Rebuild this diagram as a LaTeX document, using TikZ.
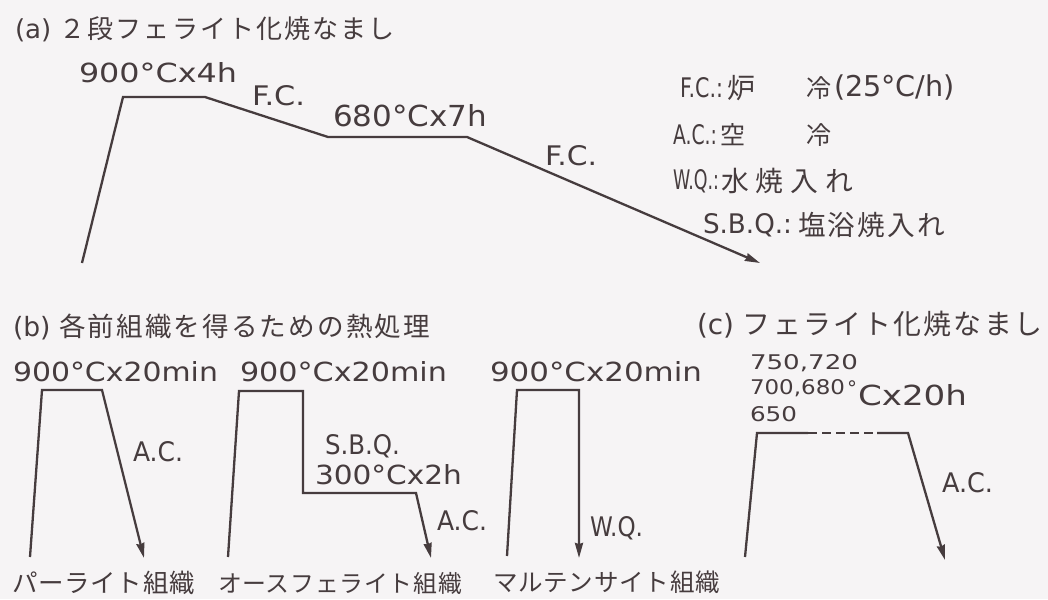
\documentclass[tikz,border=0pt]{standalone}
\usepackage{fontspec}
\usepackage{graphicx}
\setmainfont{DejaVu Sans}
\newfontfamily\jp{Noto Sans CJK JP}
\newfontfamily\jpa{Noto Sans CJK JP}[LetterSpace=8]
\newfontfamily\jpb{Noto Sans CJK JP}[LetterSpace=25]
\newfontfamily\jpc{Noto Sans CJK JP}[LetterSpace=3]
\usetikzlibrary{arrows.meta}
\definecolor{bgc}{HTML}{F6F4F5}
\definecolor{ink}{HTML}{463C3E}
\newcommand\ltx[3]{\resizebox{#1pt}{#2pt}{\fontsize{27}{30}\selectfont #3}}
\newcommand\jtx[2]{\resizebox{#1pt}{!}{\fontsize{24}{28}\selectfont #2}}
\tikzset{
  lbl/.style={anchor=west, inner sep=0pt, outer sep=0pt, text=ink},
  curve/.style={draw=ink, line width=2.3pt, line join=miter},
  arr/.style={curve, -{Stealth[length=15pt,width=8pt,inset=1pt]}},
}
\begin{document}
\begin{tikzpicture}[x=1pt,y=-1pt]
\fill[bgc] (0,0) rectangle (1048,599);
\useasboundingbox (0,0) rectangle (1048,599);

% ---------- (a) ----------
\node[lbl] (ta) at (15,29) {\jtx{380}{(a) {\jpa ２段フェライト化焼なまし}}};
\coordinate (A0) at (82,263);
\coordinate (A1) at (123,97);
\coordinate (A2) at (205,97);
\coordinate (A3) at (328,137);
\coordinate (A4) at (467,137);
\coordinate (A5) at (760,263);
\draw[arr] (A0) -- (A1) -- (A2) -- (A3) -- (A4) -- (A5);
\node[lbl] (a900) at (79,73) {\ltx{158}{20}{900°Cx4h}};
\node[lbl] (afc1) at (252,96) {\ltx{53}{20}{F.C.}};
\node[lbl] (a680) at (333,116) {\ltx{154}{22}{680°Cx7h}};
\node[lbl] (afc2) at (545,156) {\ltx{52}{20}{F.C.}};

% legend
\node[lbl] (lfc) at (680,88) {\ltx{43}{20}{F.C.:}};
\node[lbl] (lfc1) at (727,88) {\jtx{28}{\jp 炉}};
\node[lbl] (lfc2) at (806,88) {\jtx{25}{\jp 冷}};
\node[lbl] (lfc3) at (834,88) {\resizebox{121pt}{!}{\fontsize{27}{30}\selectfont (25°C/h)}};
\node[lbl] (lac) at (673,135) {\ltx{44}{20}{A.C.:}};
\node[lbl] (lac1) at (720,135) {\jtx{25}{\jp 空}};
\node[lbl] (lac2) at (806,135) {\jtx{25}{\jp 冷}};
\node[lbl] (lwq) at (673,181) {\ltx{46}{20}{W.Q.:}};
\node[lbl] (lwq1) at (721,181) {\jtx{132}{\jpb 水焼入れ}};
\node[lbl] (lsb) at (703,225) {\ltx{89}{20}{S.B.Q.:}};
\node[lbl] (lsb1) at (798,225) {\jtx{147}{\jpa 塩浴焼入れ}};

% ---------- (b) ----------
\node[lbl] (tb) at (13,327) {\jtx{417}{(b) {\jpa 各前組織を得るための熱処理}}};

% pearlite
\coordinate (P0) at (30,557);
\coordinate (P1) at (42,390);
\coordinate (P2) at (102,390);
\coordinate (P3) at (144,558);
\draw[arr] (P0) -- (P1) -- (P2) -- (P3);
\node[lbl] (p900) at (13,372) {\ltx{205}{20}{900°Cx20min}};
\node[lbl] (pac) at (133,452) {\ltx{50}{20}{A.C.}};
\node[lbl] (pl) at (12,583) {\jtx{183}{\jpc パーライト組織}};

% ausferrite
\coordinate (Q0) at (228,557);
\coordinate (Q1) at (239,391);
\coordinate (Q2) at (303,391);
\coordinate (Q3) at (303,493);
\coordinate (Q4) at (416,493);
\coordinate (Q5) at (431,558);
\draw[arr] (Q0) -- (Q1) -- (Q2) -- (Q3) -- (Q4) -- (Q5);
\node[lbl] (q900) at (240,372) {\ltx{207}{20}{900°Cx20min}};
\node[lbl] (qsbq) at (325,446) {\ltx{75}{20}{S.B.Q.}};
\node[lbl] (q300) at (315,475) {\ltx{147}{20}{300°Cx2h}};
\node[lbl] (qac) at (437,521) {\ltx{50}{20}{A.C.}};
\node[lbl] (ql) at (218,583) {\jtx{244}{\jpc オースフェライト組織}};

% martensite
\coordinate (M0) at (507,556);
\coordinate (M1) at (517,390);
\coordinate (M2) at (579,390);
\coordinate (M3) at (579,558);
\draw[arr] (M0) -- (M1) -- (M2) -- (M3);
\node[lbl] (m900) at (490,372) {\ltx{212}{20}{900°Cx20min}};
\node[lbl] (mwq) at (590,528) {\ltx{53}{20}{W.Q.}};
\node[lbl] (ml) at (493,582) {\jtx{227}{\jpc マルテンサイト組織}};

% ---------- (c) ----------
\node[lbl] (tc) at (697,325) {\jtx{345}{(c) {\jpa フェライト化焼なまし}}};
\coordinate (C0) at (745,557);
\coordinate (C1) at (757,433);
\coordinate (C2) at (808,433);
\coordinate (C3) at (877,433);
\coordinate (C4) at (908,433);
\coordinate (C5) at (945,560);
\draw[curve] (C0) -- (C1) -- (C2);
\draw[curve, dash pattern=on 9pt off 5pt] (C2) -- (C3);
\draw[arr] (C3) -- (C4) -- (C5);
\node[lbl] (c1) at (750,363) {\ltx{108}{15}{750,720}};
\node[lbl] (c2) at (750,388) {\ltx{95}{15}{700,680}};
\node[lbl] (c3) at (750,414) {\ltx{47}{15}{650}};
\node[lbl] (cdeg) at (847,388) {\resizebox{10pt}{!}{\fontsize{27}{30}\selectfont °}};
\node[lbl] (c4) at (858,395) {\ltx{109}{21}{Cx20h}};
\node[lbl] (cac) at (942,483) {\ltx{51}{20}{A.C.}};
\end{tikzpicture}
\end{document}
